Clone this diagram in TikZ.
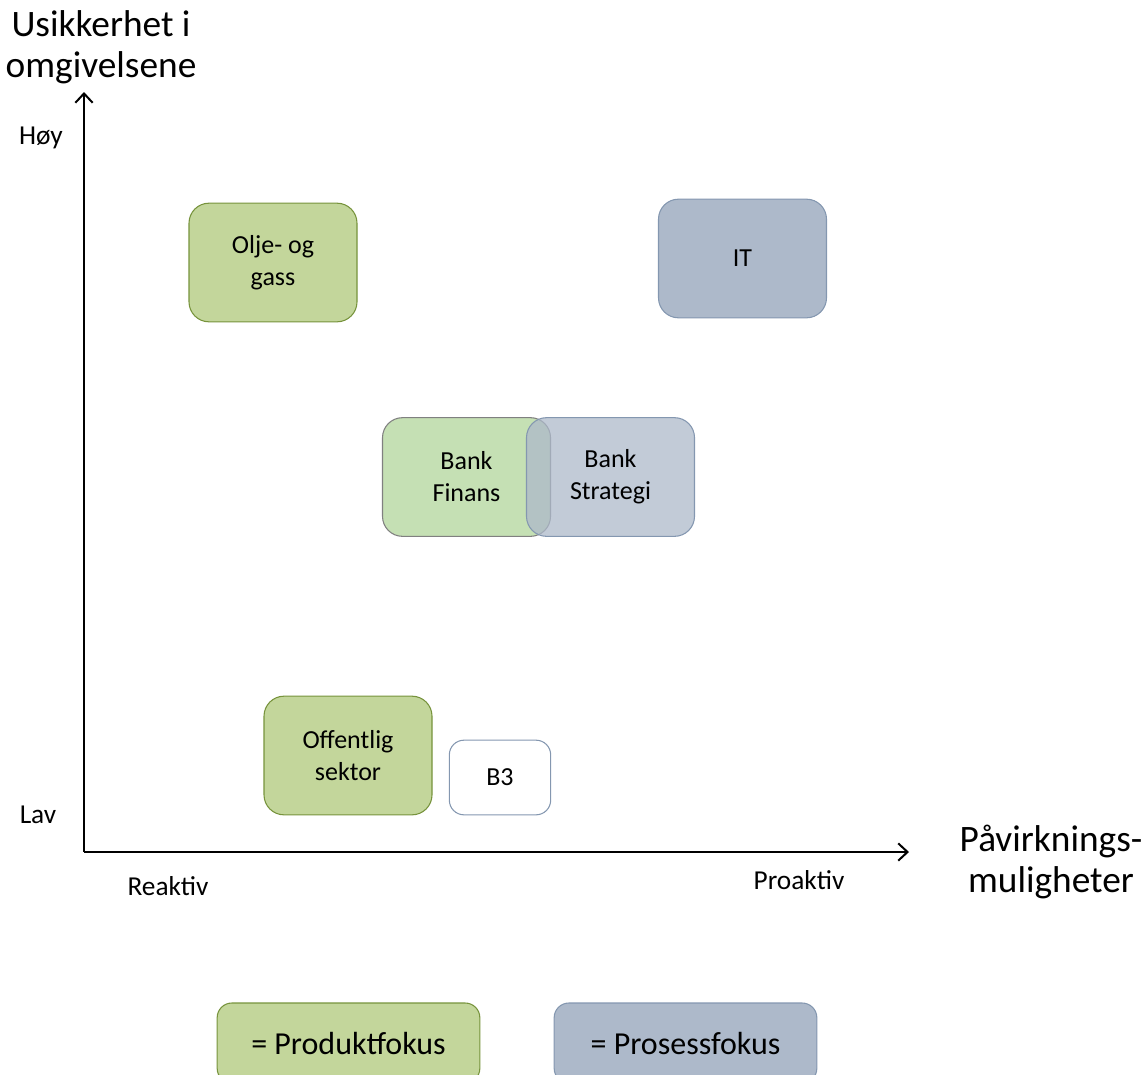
\documentclass[tikz,border=0pt]{standalone}
\usepackage{fontspec}
\setmainfont{Carlito}
\usetikzlibrary{arrows.meta}
\definecolor{prodfill}{HTML}{C3D69B}
\definecolor{proddraw}{HTML}{77933C}
\definecolor{finfill}{HTML}{C5E0B4}
\definecolor{procfill}{HTML}{ADB9CA}
\definecolor{procdraw}{HTML}{8497B0}

\begin{document}
\begin{tikzpicture}[x=0.75pt, y=-0.75pt,
  box/.style={rounded corners=15pt, minimum width=126pt, minimum height=89pt,
    align=center, font=\fontsize{19.5}{24}\selectfont, line width=0.8pt},
  prod/.style={box, fill=prodfill, draw=proddraw},
  proc/.style={box, fill=procfill, draw=procdraw},
  legend/.style={rounded corners=11pt, minimum width=197pt, minimum height=60pt,
    font=\fontsize{24}{26}\selectfont, line width=0.8pt},
  axis/.style={line width=1.8pt, -{Straight Barb[length=7pt, width=13pt, line width=1.5pt]}},
  big/.style={align=center, font=\fontsize{28}{31}\selectfont},
  small/.style={font=\fontsize{20.5}{23}\selectfont}]
  \clip (0,0) rectangle (1148,1074);
  % axes
  \coordinate (origin) at (84,852);
  \coordinate (ytip) at (84,92);
  \coordinate (xtip) at (909,852);
  \draw[axis] (origin) -- (ytip);
  \draw[axis] (origin) -- (xtip);
  \node[big] (ylabel) at (101,47) {Usikkerhet i\\omgivelsene};
  \node[big] (xlabel) at (1051,862) {Påvirknings-\\muligheter};
  \node[small] (hoy) at (41,138) {Høy};
  \node[small] (lav) at (38,815) {Lav};
  \node[small] (reaktiv) at (168,886) {Reaktiv};
  \node[small] (proaktiv) at (799,880) {Proaktiv};
  % sectors
  \node[prod] (olje) at (273,262.5) {Olje- og\\gass};
  \node[proc] (it) at (742.5,258.5) {IT};
  \node[box, fill=finfill, draw=black!50] (finans) at (466.5,477) {Bank\\Finans};
  \node[box, fill=procfill, fill opacity=0.75, text opacity=1, draw=procdraw] (strategi) at (610.5,477) {Bank\\Strategi};
  \node[prod] (offentlig) at (348,755.5) {Offentlig\\sektor};
  \node[box, draw=procdraw, minimum width=76pt, minimum height=56pt, rounded corners=11pt] (b3) at (500,777.5) {B3};
  % legend
  \node[legend, fill=prodfill, draw=proddraw] (produkt) at (348.5,1043) {= Produktfokus};
  \node[legend, fill=procfill, draw=procdraw] (prosess) at (685.5,1043) {= Prosessfokus};
\end{tikzpicture}
\end{document}
